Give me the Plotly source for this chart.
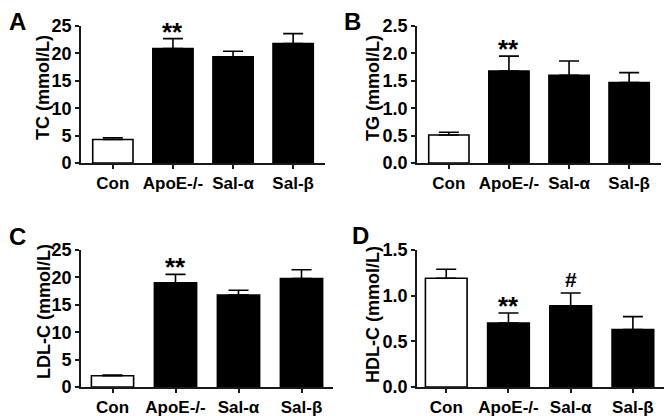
import plotly.graph_objects as go

categories = ["Con", "ApoE-/-", "Sal-α", "Sal-β"]

tc_mean = [4.3, 20.9, 19.4, 21.8]
tc_err = [0.3, 1.8, 1.0, 1.8]

tg_mean = [0.51, 1.68, 1.60, 1.47]
tg_err = [0.05, 0.27, 0.26, 0.18]

ldl_mean = [2.05, 19.0, 16.8, 19.8]
ldl_err = [0.15, 1.55, 0.85, 1.6]

hdl_mean = [1.19, 0.70, 0.89, 0.63]
hdl_err = [0.10, 0.11, 0.14, 0.14]

panel_letters = ["A", "B", "C", "D"]
y_titles = ["TC (mmol/L)", "TG (mmol/L)", "LDL-C (mmol/L)", "HDL-C (mmol/L)"]
y_ranges = [[0, 25], [0, 2.5], [0, 25], [0, 1.5]]
y_dticks = [5, 0.5, 5, 0.5]
y_tickformat = ["d", ".1f", "d", ".1f"]

sig_marks = [(0, "ApoE-/-", "**"), (1, "ApoE-/-", "**"), (2, "ApoE-/-", "**"),
             (3, "ApoE-/-", "**"), (3, "Sal-α", "#")]

W, H = 672, 416
OFF = 8  # page body margin: figure starts 8px in from the window edge
FONT = "Liberation Sans, Arial, sans-serif"
AX = "#1a1a1a"

def px(x):
    return (x - OFF) / W

def py(y):
    return 1 - (y - OFF) / H

# window-pixel boxes: x0, x1, ytop, ybottom
boxes = [(81, 325, 26, 163), (417, 661, 26, 163), (81, 333, 250, 387), (417, 664, 250, 387)]
x_ranges = [[-0.53, 3.53], [-0.53, 3.53], [-0.5, 3.5], [-0.47, 3.5]]
title_pos = [(43, 88), (373, 88), (44, 312), (373, 315)]
letter_pos = [(17, 7), (352, 7), (17, 222), (360, 221)]

means = [tc_mean, tg_mean, ldl_mean, hdl_mean]
errs = [tc_err, tg_err, ldl_err, hdl_err]
bar_colors = ["white", "black", "black", "black"]

fig = go.Figure()
layout = dict(width=W, height=H, margin=dict(l=0, r=0, t=0, b=0, pad=0, autoexpand=False),
              paper_bgcolor="white", plot_bgcolor="white", showlegend=False,
              font=dict(family=FONT, color="black"))
annotations = []

for i in range(4):
    sfx = "" if i == 0 else str(i + 1)
    x0, x1, yt, yb = boxes[i]
    fig.add_trace(go.Bar(
        x=categories, y=means[i], width=0.67,
        marker=dict(color=bar_colors, line=dict(color="black", width=1.6)),
        error_y=dict(type="data", symmetric=False, array=errs[i],
                     arrayminus=[0] * 4, color="black", thickness=1.6, width=10),
        xaxis="x" + sfx, yaxis="y" + sfx,
    ))
    layout["xaxis" + sfx] = dict(
        domain=[px(x0), px(x1)], anchor="y" + sfx, range=x_ranges[i],
        showline=True, linecolor=AX, linewidth=1.6, ticks="outside",
        ticklen=4, tickwidth=1.6, tickcolor=AX, showgrid=False, automargin=False,
        tickfont=dict(size=17, family=FONT, color="black", weight="bold"), fixedrange=True)
    layout["yaxis" + sfx] = dict(
        domain=[py(yb), py(yt)], anchor="x" + sfx, range=y_ranges[i],
        dtick=y_dticks[i], tickformat=y_tickformat[i], automargin=False,
        showline=True, linecolor=AX, linewidth=1.6, ticks="outside",
        ticklen=4, tickwidth=1.6, tickcolor=AX, showgrid=False, zeroline=False,
        tickfont=dict(size=18, family=FONT, color="black", weight="bold"), fixedrange=True)
    tx, ty = title_pos[i]
    annotations.append(dict(
        text="<b>%s</b>" % y_titles[i], x=px(tx), y=py(ty),
        xref="paper", yref="paper", textangle=-90, showarrow=False,
        xanchor="center", yanchor="middle", font=dict(size=18, family=FONT)))
    lx, ly = letter_pos[i]
    annotations.append(dict(
        text="<b>%s</b>" % panel_letters[i], x=px(lx), y=py(ly),
        xref="paper", yref="paper", showarrow=False, borderpad=0,
        xanchor="center", yanchor="top", font=dict(size=24, family=FONT)))

for (p, cat, txt) in sig_marks:
    sfx = "" if p == 0 else str(p + 1)
    k = categories.index(cat)
    top = means[p][k] + errs[p][k]
    annotations.append(dict(
        text="<b>%s</b>" % txt, x=cat, y=top, xref="x" + sfx, yref="y" + sfx,
        showarrow=False, xanchor="center", yanchor="bottom",
        yshift=-10 if txt == "**" else 0,
        font=dict(size=26 if txt == "**" else 21, family=FONT)))

layout["annotations"] = annotations
fig.update_layout(**layout)
fig.write_html("out.html")
